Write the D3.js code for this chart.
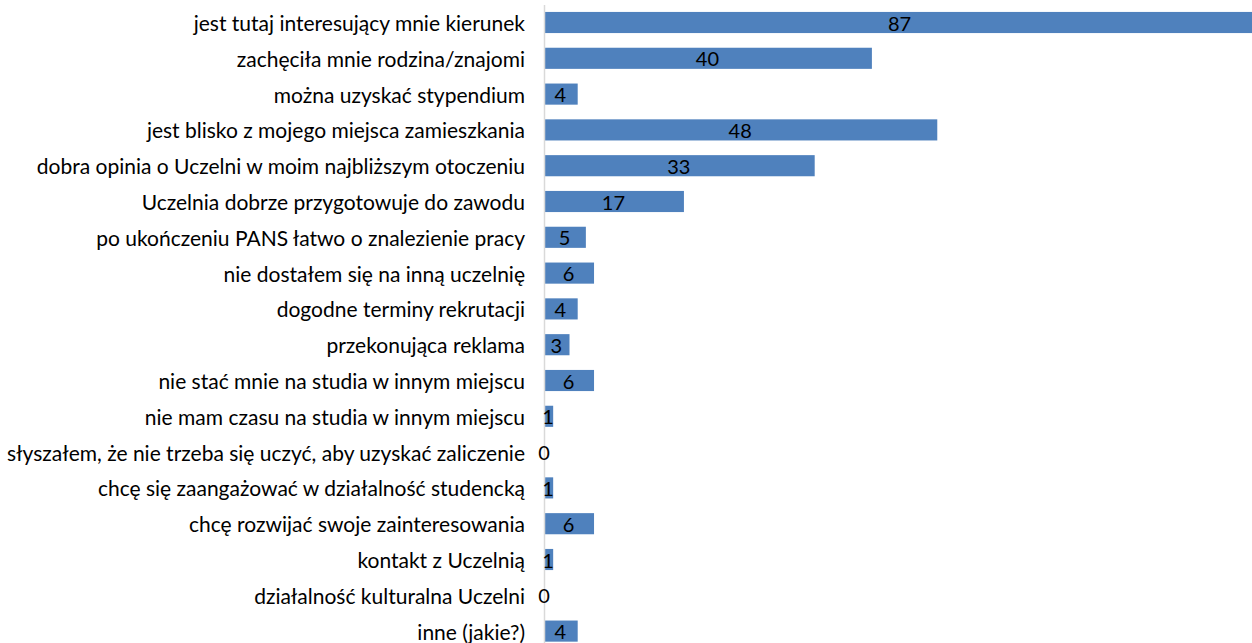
<!DOCTYPE html>
<html><head><meta charset="utf-8">
<script src="https://cdn.jsdelivr.net/npm/d3@7"></script>
<style>body{margin:0;background:#fff}svg{display:block}</style>
</head><body><svg id="c" width="1252" height="643"></svg>
<script>
const categories = [
"jest tutaj interesujący mnie kierunek",
"zachęciła mnie rodzina/znajomi",
"można uzyskać stypendium",
"jest blisko z mojego miejsca zamieszkania",
"dobra opinia o Uczelni w moim najbliższym otoczeniu",
"Uczelnia dobrze przygotowuje do zawodu",
"po ukończeniu PANS łatwo o znalezienie pracy",
"nie dostałem się na inną uczelnię",
"dogodne terminy rekrutacji",
"przekonująca reklama",
"nie stać mnie na studia w innym miejscu",
"nie mam czasu na studia w innym miejscu",
"słyszałem, że nie trzeba się uczyć, aby uzyskać zaliczenie",
"chcę się zaangażować w działalność studencką",
"chcę rozwijać swoje zainteresowania ",
"kontakt z Uczelnią",
"działalność kulturalna Uczelni",
"inne (jakie?)"
];
const values = [87,40,4,48,33,17,5,6,4,3,6,1,0,1,6,1,0,4];

const svg = d3.select("#c");
const x0 = 545;
const x = d3.scaleLinear().domain([0, 87]).range([x0, 1256]);
const y = d3.scaleBand().domain(categories).range([4.6, 649]).paddingInner(0.41).paddingOuter(0.205);
const font = "Lato, 'Open Sans', sans-serif";

svg.append("g").selectAll("rect").data(values).join("rect")
  .attr("x", x(0)).attr("y", (d,i)=>y(categories[i]))
  .attr("width", d=>x(d)-x(0)).attr("height", y.bandwidth())
  .attr("fill", "#4f81bd");

svg.append("line").attr("x1", x0-0.5).attr("x2", x0-0.5).attr("y1", 5).attr("y2", 643)
  .attr("stroke", "#d9d9d9").attr("stroke-width", 1.5);

svg.append("g").selectAll("text").data(categories).join("text")
  .attr("x", 525).attr("y", d=>y(d)+y.bandwidth()/2)
  .attr("text-anchor", "end").attr("dominant-baseline", "central")
  .style("font-family", font).style("font-size", "21px").attr("fill", "#000")
  .text(d=>d);

svg.append("g").selectAll("text").data(values).join("text")
  .attr("x", d=>(x(0)+Math.min(x(d),1256))/2 - 1).attr("y", (d,i)=>y(categories[i])+y.bandwidth()/2)
  .attr("text-anchor", "middle").attr("dominant-baseline", "central")
  .style("font-family", font).style("font-size", "20px").attr("fill", "#000")
  .text(d=>d);
</script></body></html>
